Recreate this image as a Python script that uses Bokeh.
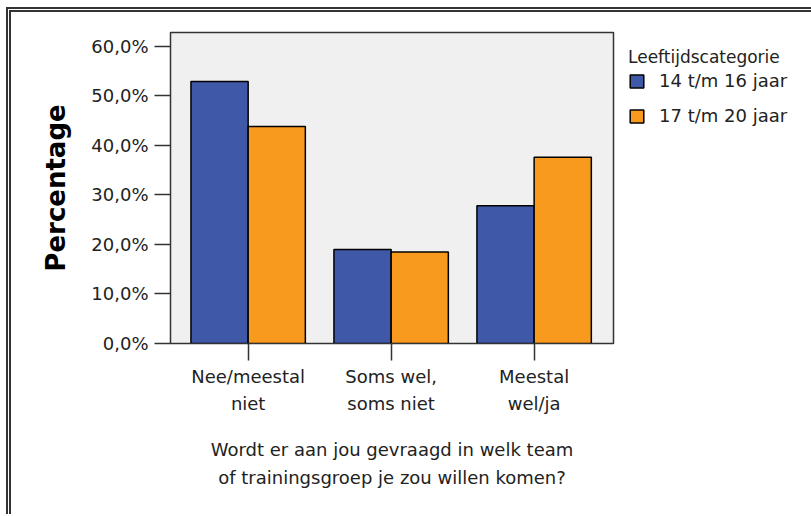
from bokeh.plotting import figure
from bokeh.models import Range1d, FixedTicker, Legend, LegendItem, ColumnDataSource
from bokeh.embed import file_html
from bokeh.resources import INLINE

categories = ["Nee/meestal\nniet", "Soms wel,\nsoms niet", "Meestal\nwel/ja"]
series_names = ["14 t/m 16 jaar", "17 t/m 20 jaar"]
pct_14_16 = [52.9, 19.0, 27.8]
pct_17_20 = [43.8, 18.5, 37.6]
y_ticks = [0, 10, 20, 30, 40, 50, 60]
y_tick_labels = ["0,0%", "10,0%", "20,0%", "30,0%", "40,0%", "50,0%", "60,0%"]
x_title = "Wordt er aan jou gevraagd in welk team\nof trainingsgroep je zou willen komen?"
y_title = "Percentage"
legend_title = "Leeftijdscategorie"

BLUE = "#3F58A8"
ORANGE = "#F89A1E"

idx = list(range(len(categories)))
src = ColumnDataSource(dict(
    xa=[i - 0.2 for i in idx], xb=[i + 0.2 for i in idx],
    a=pct_14_16, b=pct_17_20,
))

p = figure(
    output_backend="svg", toolbar_location=None,
    frame_width=443, frame_height=311,
    min_border_left=159, min_border_top=20, min_border_right=195, min_border_bottom=171,
    x_range=Range1d(-0.543, 2.555), y_range=Range1d(0, 62.8),
    background_fill_color="#F0F0F0", border_fill_color="white",
)
p.styles = {"margin-left": "6px", "margin-top": "7px",
            "border-left": "5px double #333", "border-top": "5px double #333"}

p.grid.visible = False
p.outline_line_color = "#333333"
p.outline_line_width = 1.5

ra = p.vbar(x="xa", top="a", width=0.4, source=src, fill_color=BLUE,
            line_color="black", line_width=1.5)
rb = p.vbar(x="xb", top="b", width=0.4, source=src, fill_color=ORANGE,
            line_color="black", line_width=1.5)

FONT = "DejaVu Sans"

xa = p.xaxis[0]
xa.ticker = FixedTicker(ticks=idx)
xa.major_label_overrides = {i: c for i, c in zip(idx, categories)}
xa.major_tick_out = 17
xa.major_tick_in = 0
xa.minor_tick_line_color = None
xa.major_label_text_font = FONT
xa.major_label_text_font_size = "18px"
xa.major_label_text_color = "#222222"
xa.major_label_text_line_height = 1.3
xa.major_label_standoff = 5
xa.axis_label = x_title
xa.axis_label_text_font = FONT
xa.axis_label_text_font_size = "18px"
xa.axis_label_text_font_style = "normal"
xa.axis_label_text_color = "#222222"
xa.axis_label_text_line_height = 1.35
xa.axis_label_standoff = 22
xa.axis_line_color = "#333333"
xa.major_tick_line_color = "#333333"
xa.major_tick_line_width = 1.5

ya = p.yaxis[0]
ya.ticker = FixedTicker(ticks=y_ticks)
ya.major_label_overrides = {v: l for v, l in zip(y_ticks, y_tick_labels)}
ya.major_tick_out = 16
ya.major_tick_in = 0
ya.minor_tick_line_color = None
ya.major_label_text_font = FONT
ya.major_label_text_font_size = "18px"
ya.major_label_text_color = "#222222"
ya.major_label_standoff = 6
ya.axis_label = y_title
ya.axis_label_text_font = FONT
ya.axis_label_text_font_size = "26px"
ya.axis_label_text_font_style = "bold"
ya.axis_label_text_color = "black"
ya.axis_label_standoff = 17
ya.axis_line_color = "#333333"
ya.major_tick_line_color = "#333333"
ya.major_tick_line_width = 1.5

legend = Legend(
    items=[LegendItem(label=series_names[0], renderers=[ra]),
           LegendItem(label=series_names[1], renderers=[rb])],
    title=legend_title, location="top_left",
    margin=15, padding=0, spacing=14,
    glyph_width=17, glyph_height=16, label_height=20, label_standoff=14,
    title_text_font=FONT, title_text_font_size="17px", title_text_font_style="normal",
    title_text_color="#222222", title_standoff=3,
    label_text_font=FONT, label_text_font_size="18px", label_text_color="#222222",
    border_line_color=None, background_fill_alpha=0,
)
p.add_layout(legend, "right")

open("out.html", "w").write(file_html(p, INLINE))
